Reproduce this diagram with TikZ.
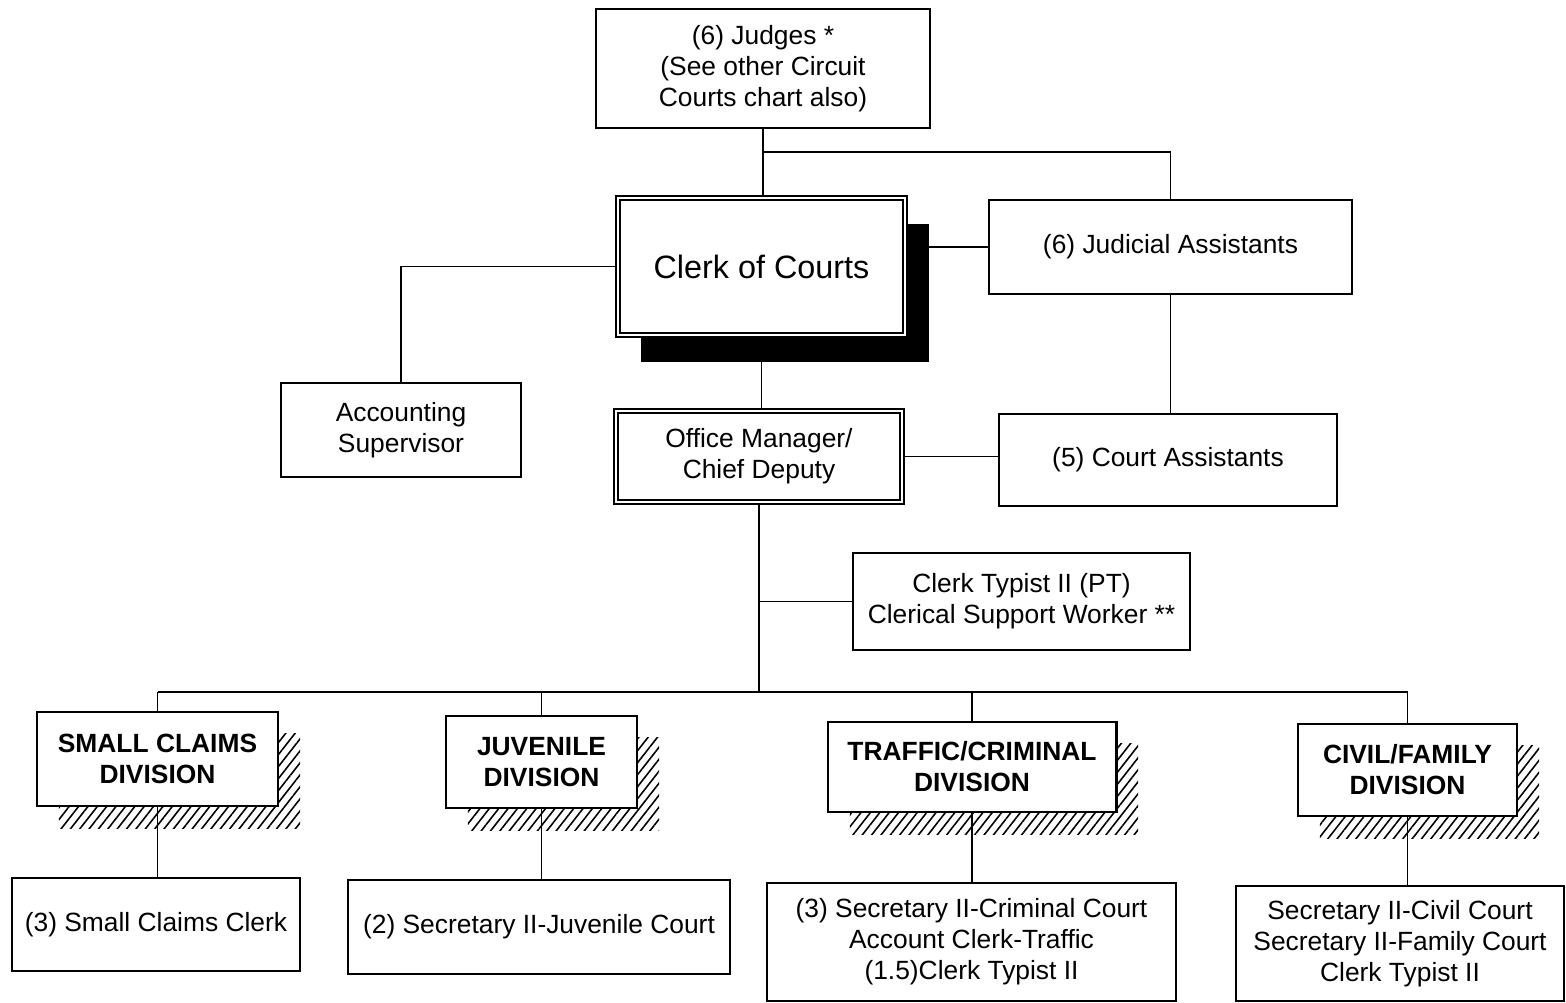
\documentclass[tikz,border=0pt]{standalone}
\usepackage{fontspec}
\setmainfont{Liberation Sans}
\usetikzlibrary{shadows,patterns.meta}

\begin{document}
\begin{tikzpicture}[x=0.01cm,y=-0.01cm,
  every node/.style={draw, line width=.5pt, fill=white, align=center, inner sep=0pt, font=\fontsize{7.5}{8.8}\selectfont},
  dbl/.style={double, line width=.4pt, double distance=.8pt},
  division/.style={line width=.8pt, font=\fontsize{7.5}{8.8}\selectfont\bfseries,
    general shadow={shadow xshift=.22cm, shadow yshift=-.22cm, draw=none, pattern={Lines[angle=52,distance=2.1pt,line width=.45pt]}}},
  link/.style={line width=.4pt}]
\useasboundingbox (0,0) rectangle (1566,1003);

\node[minimum width=3.34cm, minimum height=1.19cm] (judges) at (763,68.5) {(6) Judges *\\(See other Circuit\\Courts chart also)};
\node[dbl, minimum width=2.87cm, minimum height=1.37cm, font=\fontsize{9.2}{11}\selectfont,
  drop shadow={shadow xshift=.235cm, shadow yshift=-.265cm, fill=black, opacity=1}] (clerk) at (761.5,266.5) {Clerk of Courts};
\node[minimum width=3.63cm, minimum height=.94cm] (judass) at (1170.5,247) {(6) Judicial Assistants};
\node[minimum width=2.40cm, minimum height=.94cm] (acct) at (401,430) {Accounting\\Supervisor};
\node[dbl, minimum width=2.86cm, minimum height=.91cm] (office) at (759,456.5) {Office Manager/\\Chief Deputy};
\node[minimum width=3.38cm, minimum height=.92cm] (courtass) at (1168,460) {(5) Court Assistants};
\node[minimum width=3.37cm, minimum height=.97cm] (typist) at (1021.5,601.5) {Clerk Typist II (PT)\\Clerical Support Worker **};

\node[division, minimum width=2.41cm, minimum height=.94cm] (small) at (157.5,759) {SMALL CLAIMS\\DIVISION};
\node[division, minimum width=1.91cm, minimum height=.92cm] (juv) at (541.5,762) {JUVENILE\\DIVISION};
\node[division, minimum width=2.88cm, minimum height=.90cm] (traffic) at (972,767) {TRAFFIC/CRIMINAL\\DIVISION};
\node[division, minimum width=2.19cm, minimum height=.92cm] (civil) at (1407.5,770) {CIVIL/FAMILY\\DIVISION};

\node[minimum width=2.88cm, minimum height=.93cm] (scclerk) at (156,924.5) {(3) Small Claims Clerk};
\node[minimum width=3.82cm, minimum height=.94cm] (juvsec) at (539,927) {(2) Secretary II-Juvenile Court};
\node[minimum width=4.09cm, minimum height=1.18cm] (trafsec) at (971.5,942) {(3) Secretary II-Criminal Court\\Account Clerk-Traffic\\(1.5)Clerk Typist II};
\node[minimum width=3.28cm, minimum height=1.15cm] (civsec) at (1400,943.5) {Secretary II-Civil Court\\Secretary II-Family Court\\Clerk Typist II};

\coordinate (jbr) at (763,152);
\coordinate (bus) at (758,692);

\begin{scope}[link]
\draw (judges.south) -- (judges.south |- clerk.north);
\draw (jbr) -| (judass.north);
\draw (judass.west) -- (clerk.east |- judass.west);
\draw (clerk.west) -| (acct.north);
\draw (clerk.south) -- (clerk.south |- office.north);
\draw (judass.south) -- (judass.south |- courtass.north);
\draw (office.east) -- (office.east -| courtass.west);
\draw (office.south) -- (office.south |- bus);
\draw (office.south |- typist.west) -- (typist.west);
\draw (small.north |- bus) -- (civil.north |- bus);
\foreach \d/\s in {small/scclerk,juv/juvsec,traffic/trafsec,civil/civsec}{
  \draw (\d.north |- bus) -- (\d.north);
  \draw (\d.south) -- (\d.south |- \s.north);
}
\end{scope}
\end{tikzpicture}
\end{document}
